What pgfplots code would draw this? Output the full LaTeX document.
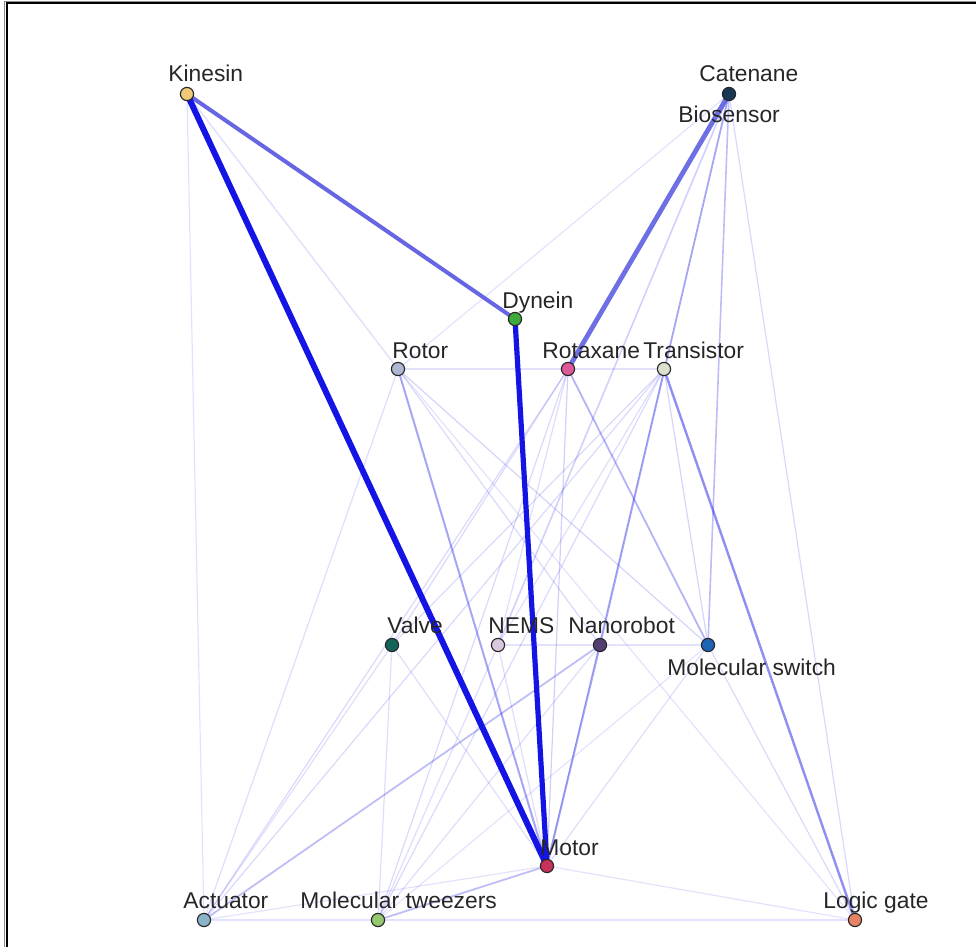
\documentclass[border=0pt]{standalone}
\usepackage{pgfplots}
\pgfplotsset{compat=1.18}
\usepackage{fontspec}
\setmainfont{Liberation Sans}
\definecolor{eb}{RGB}{20,20,228}
\definecolor{ebl}{RGB}{85,85,225}
\definecolor{cKi}{RGB}{240,200,120}
\definecolor{cCa}{RGB}{25,55,85}
\definecolor{cDy}{RGB}{60,170,60}
\definecolor{cRo}{RGB}{175,182,210}
\definecolor{cRx}{RGB}{220,90,150}
\definecolor{cTr}{RGB}{218,226,205}
\definecolor{cVa}{RGB}{20,100,90}
\definecolor{cNE}{RGB}{218,200,222}
\definecolor{cNa}{RGB}{85,62,115}
\definecolor{cMS}{RGB}{30,100,180}
\definecolor{cMo}{RGB}{200,50,90}
\definecolor{cAc}{RGB}{140,180,200}
\definecolor{cMT}{RGB}{150,200,110}
\definecolor{cLG}{RGB}{232,130,100}
\newcommand{\edge}[6]{\addplot[forget plot, line width=#5, draw=eb, draw opacity=#6] coordinates {(#1,#2) (#3,#4)};}
\newcommand{\vertex}[3]{\addplot[forget plot, only marks, mark=*, mark size=3.3pt, mark options={fill=#3, draw=black!85, line width=0.55pt}] coordinates {(#1,#2)};}
\newcommand{\lab}[3]{\node[anchor=base west, inner sep=0pt, text=black!85, font=\fontsize{11.4}{13}\selectfont] at (axis cs:#1,#2) {#3};}
\begin{document}
\begin{tikzpicture}
\useasboundingbox (0,0) rectangle (488pt,473.5pt);
\begin{axis}[at={(0,0)}, anchor=south west, scale only axis, width=488pt, height=473.5pt,
  xmin=0, xmax=976, ymin=0, ymax=947, y dir=reverse, hide axis, clip=false]
% frame
\addplot[forget plot, draw=black!45, line width=0.5pt] coordinates {(4.5,947) (4.5,1.5) (976,1.5)};
\addplot[forget plot, draw=black, line width=1pt] coordinates {(6.5,947) (6.5,3.5) (976,3.5)};
% faint edges
\edge{729}{94}{855}{920}{0.6pt}{0.16}
\edge{729}{94}{398}{369}{0.6pt}{0.12}
\edge{187}{94}{204}{920}{0.6pt}{0.12}
\edge{187}{94}{398}{369}{0.8pt}{0.12}
\edge{398}{369}{664}{369}{0.6pt}{0.12}
\edge{398}{369}{204}{920}{0.6pt}{0.14}
\edge{398}{369}{600}{645}{0.6pt}{0.16}
\edge{398}{369}{708}{645}{0.6pt}{0.18}
\edge{398}{369}{855}{920}{0.6pt}{0.12}
\edge{568}{369}{547}{866}{0.6pt}{0.2}
\edge{568}{369}{204}{920}{0.6pt}{0.16}
\edge{568}{369}{378}{920}{0.6pt}{0.16}
\edge{568}{369}{392}{645}{0.6pt}{0.16}
\edge{568}{369}{498}{645}{0.6pt}{0.14}
\edge{664}{369}{708}{645}{0.6pt}{0.18}
\edge{664}{369}{204}{920}{0.6pt}{0.16}
\edge{664}{369}{378}{920}{0.6pt}{0.16}
\edge{664}{369}{392}{645}{0.6pt}{0.16}
\edge{664}{369}{547}{866}{0.6pt}{0.16}
\edge{664}{369}{498}{645}{0.6pt}{0.14}
\edge{392}{645}{204}{920}{0.6pt}{0.14}
\edge{392}{645}{378}{920}{0.6pt}{0.14}
\edge{392}{645}{547}{866}{0.6pt}{0.14}
\edge{498}{645}{708}{645}{0.6pt}{0.12}
\edge{498}{645}{547}{866}{0.6pt}{0.14}
\edge{498}{645}{378}{920}{0.6pt}{0.14}
\edge{600}{645}{378}{920}{0.6pt}{0.14}
\edge{708}{645}{547}{866}{0.6pt}{0.14}
\edge{708}{645}{855}{920}{0.6pt}{0.16}
\edge{708}{645}{378}{920}{0.6pt}{0.12}
\edge{547}{866}{855}{920}{0.6pt}{0.12}
\edge{547}{866}{204}{920}{0.6pt}{0.12}
\edge{204}{920}{855}{920}{0.6pt}{0.12}
% medium edges
\edge{729}{94}{600}{645}{0.9pt}{0.38}
\edge{729}{94}{708}{645}{0.8pt}{0.28}
\edge{729}{94}{498}{645}{0.8pt}{0.2}
\edge{664}{369}{855}{920}{1.2pt}{0.48}
\edge{398}{369}{547}{866}{1pt}{0.38}
\edge{568}{369}{708}{645}{0.9pt}{0.32}
\edge{600}{645}{547}{866}{1pt}{0.38}
\edge{600}{645}{204}{920}{0.9pt}{0.28}
\edge{547}{866}{378}{920}{0.9pt}{0.28}
% strong edges
\addplot[forget plot, line width=2pt, draw=ebl, draw opacity=0.9] coordinates {(187,94) (515,319)};
\addplot[forget plot, line width=2.4pt, draw=ebl, draw opacity=0.85] coordinates {(729,94) (568,369)};
\addplot[forget plot, line width=2.6pt, draw=eb] coordinates {(515,319) (547,866)};
\addplot[forget plot, line width=3pt, draw=eb] coordinates {(187,94) (547,866)};
% vertices
\vertex{187}{94}{cKi}
\vertex{729}{94}{cCa}
\vertex{515}{319}{cDy}
\vertex{398}{369}{cRo}
\vertex{568}{369}{cRx}
\vertex{664}{369}{cTr}
\vertex{392}{645}{cVa}
\vertex{498}{645}{cNE}
\vertex{600}{645}{cNa}
\vertex{708}{645}{cMS}
\vertex{547}{866}{cMo}
\vertex{204}{920}{cAc}
\vertex{378}{920}{cMT}
\vertex{855}{920}{cLG}
% labels
\lab{168}{82}{Kinesin}
\lab{699}{82}{Catenane}
\lab{678}{123}{Biosensor}
\lab{502}{308}{Dynein}
\lab{392}{358}{Rotor}
\lab{542}{358}{Rotaxane}
\lab{643}{358}{Transistor}
\lab{387}{633}{Valve}
\lab{488}{633}{NEMS}
\lab{568}{633}{Nanorobot}
\lab{667}{675}{Molecular switch}
\lab{540}{855}{Motor}
\lab{183}{908}{Actuator}
\lab{300}{908}{Molecular tweezers}
\lab{823}{908}{Logic gate}
\end{axis}
\end{tikzpicture}
\end{document}
